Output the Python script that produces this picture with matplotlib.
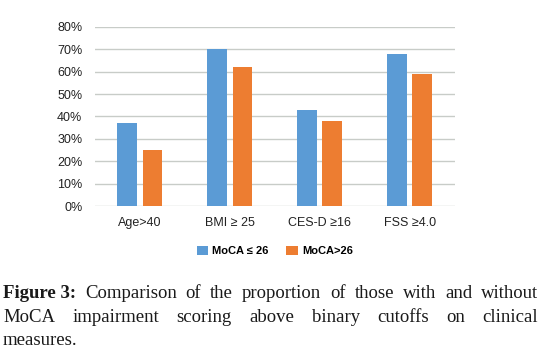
import numpy as np
import matplotlib
matplotlib.use('Agg')
import matplotlib.pyplot as plt
from matplotlib.ticker import PercentFormatter

categories = ['Age>40', 'BMI ≥ 25', 'CES-D ≥16', 'FSS ≥4.0']
moca_low = [0.37, 0.70, 0.43, 0.68]
moca_high = [0.25, 0.62, 0.38, 0.59]
series_names = ['MoCA ≤ 26', 'MoCA>26']
yticks = [0, 0.1, 0.2, 0.3, 0.4, 0.5, 0.6, 0.7, 0.8]

caption_lines = [
    ['Figure 3:', 'Comparison', 'of', 'the', 'proportion', 'of', 'those', 'with', 'and', 'without'],
    ['MoCA', 'impairment', 'scoring', 'above', 'binary', 'cutoffs', 'on', 'clinical'],
    ['measures.'],
]

plt.rcParams['font.family'] = ['Liberation Sans', 'DejaVu Sans']

fig = plt.figure(figsize=(5.42, 3.59), dpi=100)
ax = fig.add_axes([0.175, 0.426, 0.664, 0.499])

x = np.arange(len(categories))
w = 0.22
ax.bar(x - 0.14, moca_low, w, color='#5B9BD5', label=series_names[0], zorder=3)
ax.bar(x + 0.14, moca_high, w, color='#ED7D31', label=series_names[1], zorder=3)

ax.set_xlim(-0.5, len(categories) - 0.5)
ax.set_ylim(0, 0.8)
ax.set_yticks(yticks)
ax.yaxis.set_major_formatter(PercentFormatter(1.0, decimals=0))
ax.set_xticks(x)
ax.set_xticklabels(categories)
ax.tick_params(length=0, labelsize=9, colors='#222222', pad=8)
ax.tick_params(axis='y', pad=9)
ax.grid(axis='y', color='#C8CCC8', linewidth=1, zorder=0)
for s in ax.spines.values():
    s.set_visible(False)

leg = ax.legend(loc='center', bbox_to_anchor=(0.5, -0.25), ncol=2, frameon=False,
                prop={'weight': 'bold', 'size': 8}, handlelength=1.0, handleheight=0.9,
                columnspacing=1.6, handletextpad=0.4)

# caption, justified over the full width
fig.canvas.draw()
renderer = fig.canvas.get_renderer()
left, right = 3, 538
baselines = [298, 322, 345]
H = fig.bbox.height
for li, words in enumerate(caption_lines):
    texts = []
    for wi, word in enumerate(words):
        bold = (li == 0 and wi == 0)
        t = fig.text(0, 1 - baselines[li] / H, word, family='Liberation Serif',
                     fontsize=13.5, weight='bold' if bold else 'normal',
                     va='baseline', ha='left', color='#1a1a1a')
        texts.append(t)
    widths = [t.get_window_extent(renderer).width for t in texts]
    if len(texts) > 1 and li < len(caption_lines) - 1:
        gap = (right - left - sum(widths)) / (len(texts) - 1)
    else:
        gap = 4
    xpos = left
    for t, wd in zip(texts, widths):
        t.set_x(xpos / fig.bbox.width)
        xpos += wd + gap

fig.savefig('out.png', dpi=100)
